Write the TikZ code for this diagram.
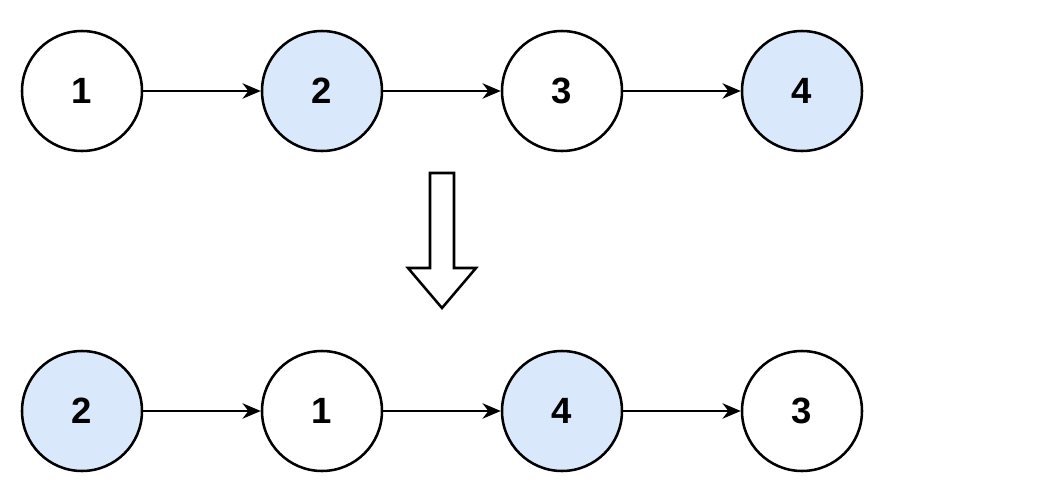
\documentclass[tikz,border=0pt]{standalone}
\usepackage{fontspec}
\setmainfont{Liberation Sans}
\usetikzlibrary{positioning}
\usetikzlibrary{arrows.meta}
\definecolor{lightblue}{HTML}{DAE8FC}
\begin{document}
\begin{tikzpicture}[main/.style = {draw, circle, line width=1.8pt, minimum size=3cm, font=\fontsize{26}{30}\selectfont\bfseries}, blue/.style = {main, fill=lightblue}, node distance=6cm, >={Stealth[length=13pt, width=11pt]}]
\useasboundingbox (0,0) rectangle (26,-12.475);
\node[main] (1) at (2.05,-2.275) {1};
\node[blue] (2) [right of=1] {2};
\node[main] (3) [right of=2] {3};
\node[blue] (4) [right of=3] {4};
\node[blue] (b2) at (2.05,-10.275) {2};
\node[main] (b1) [right of=b2] {1};
\node[blue] (b4) [right of=b1] {4};
\node[main] (b3) [right of=b4] {3};
\path (1) edge [->, line width=1.6pt] (2);
\path (2) edge [->, line width=1.6pt] (3);
\path (3) edge [->, line width=1.6pt] (4);
\path (b2) edge [->, line width=1.6pt] (b1);
\path (b1) edge [->, line width=1.6pt] (b4);
\path (b4) edge [->, line width=1.6pt] (b3);
% hollow arrow
\draw[line width=1.8pt, fill=white] (10.75,-4.325) -- (11.35,-4.325) -- (11.35,-6.7) -- (11.9,-6.7) -- (11.05,-7.7) -- (10.2,-6.7) -- (10.75,-6.7) -- cycle;
\end{tikzpicture}
\end{document}
